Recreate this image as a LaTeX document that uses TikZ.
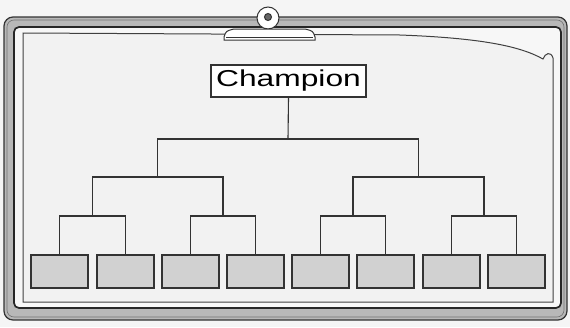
\documentclass[tikz,border=0pt]{standalone}
\usepackage{fontspec}
\newfontfamily\champfont{Liberation Sans}
\begin{document}
\begin{tikzpicture}[x=1pt,y=-1pt,
  ink/.style={draw=black!80},
  seedbox/.style={draw=black!80,line width=1.3pt,fill=black!18,minimum width=57pt,minimum height=33pt,inner sep=0pt},
  bracket/.style={draw=black!80,line width=1.1pt},
  champbox/.style={draw=black!80,line width=1.1pt,fill=white,minimum width=155pt,minimum height=32pt,inner sep=0pt}]
\useasboundingbox (0,0) rectangle (570,327);
\fill[black!4] (0,0) rectangle (570,327);
% board frame
\draw[fill=black!28,draw=black!80,line width=1.2pt,rounded corners=9pt] (4,17) rectangle (567,320);
\draw[draw=black!55,line width=0.6pt,rounded corners=7pt] (7,20) rectangle (564,317);
\draw[fill=black!3,draw=black!85,line width=1.7pt,rounded corners=5pt] (14,27) rectangle (561,308);
% paper with curled corner
\path[fill=black!5] (23,33) -- (400,35) .. controls (480,38) and (520,46) .. (543,59) .. controls (545,53) and (551,51) .. (553,58) -- (553,302) -- (23,302) -- cycle;
\draw[black!75,line width=1pt] (23,33) -- (400,35) .. controls (480,38) and (520,46) .. (543,59) .. controls (545,53) and (551,51) .. (553,58) -- (553,302) -- (23,302) -- cycle;
% clip
\draw[ink,line width=1pt,fill=white] (268,18) circle (11);
\draw[ink,line width=1pt,fill=black!60] (268,17) circle (3.5);
\draw[ink,line width=1pt,fill=white] (224,40) -- (224,37) .. controls (226,31) .. (234,29) -- (305,29) .. controls (313,31) .. (315,37) -- (315,40) -- cycle;
\draw[ink,line width=0.8pt] (226,37) -- (313,37);
% champion
\node[champbox] (c) at (288.5,81) {\champfont\fontsize{23}{23}\selectfont\scalebox{1.38}[1]{Champion}};
% seed boxes
\foreach \i/\x in {1/59.5,2/125.5,3/190.5,4/255.5,5/320.5,6/385.5,7/451.5,8/516.5}
  \node[seedbox] (b\i) at (\x,271.5) {};
% junctions
\coordinate (m12) at (92.5,216);
\coordinate (m34) at (223,216);
\coordinate (m56) at (353,216);
\coordinate (m78) at (484,216);
\coordinate (l2a) at (157.75,177);
\coordinate (l2b) at (418.5,177);
\coordinate (top) at (288,139);
% brackets
\draw[bracket] (b1.north) |- (m12) -| (b2.north);
\draw[bracket] (b3.north) |- (m34) -| (b4.north);
\draw[bracket] (b5.north) |- (m56) -| (b6.north);
\draw[bracket] (b7.north) |- (m78) -| (b8.north);
\draw[bracket] (m12) |- (l2a) -| (m34);
\draw[bracket] (m56) |- (l2b) -| (m78);
\draw[bracket] (l2a) |- (top) -| (l2b);
\draw[bracket] (top) -- (c.south);
\end{tikzpicture}
\end{document}
